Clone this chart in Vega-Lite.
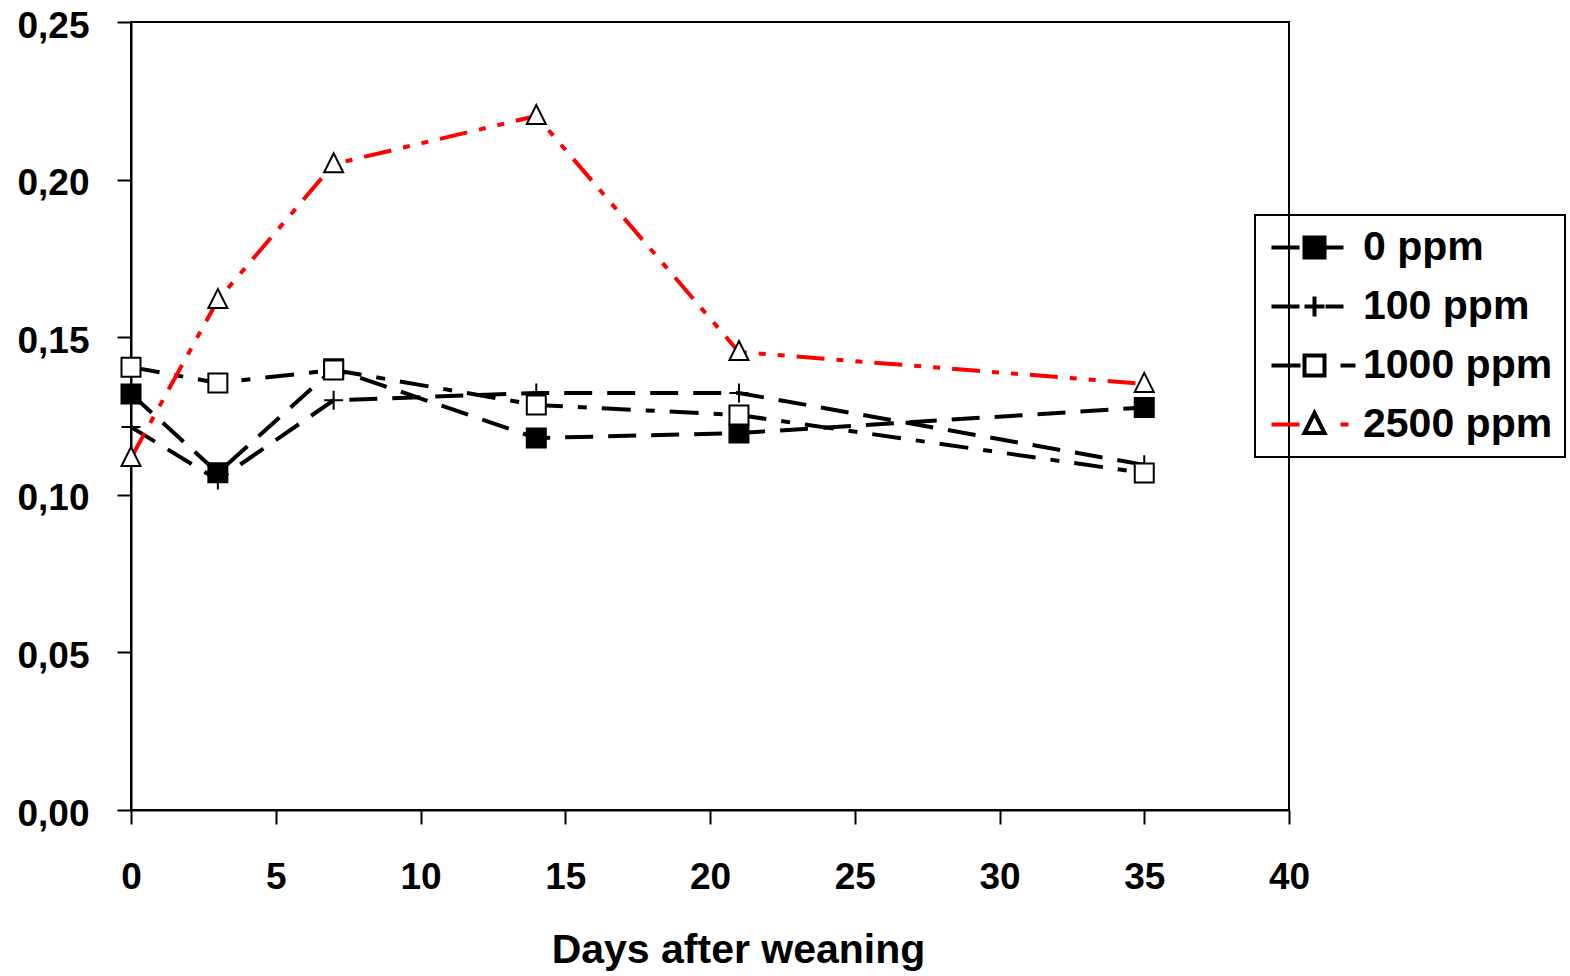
{
  "$schema": "https://vega.github.io/schema/vega-lite/v6.json",
  "width": 1158,
  "height": 788,
  "autosize": {"type": "none"},
  "padding": {"left": 131, "top": 22, "right": 281, "bottom": 166},
  "background": "white",
  "config": {
    "view": {"stroke": "black", "strokeWidth": 2},
    "font": "Liberation Sans"
  },
  "data": {
    "values": [
      {"day": 0, "value": 0.1320, "series": "0 ppm"},
      {"day": 3, "value": 0.1070, "series": "0 ppm"},
      {"day": 7, "value": 0.1400, "series": "0 ppm"},
      {"day": 14, "value": 0.1180, "series": "0 ppm"},
      {"day": 21, "value": 0.1196, "series": "0 ppm"},
      {"day": 35, "value": 0.1277, "series": "0 ppm"},
      {"day": 0, "value": 0.1215, "series": "100 ppm"},
      {"day": 3, "value": 0.1047, "series": "100 ppm"},
      {"day": 7, "value": 0.1300, "series": "100 ppm"},
      {"day": 14, "value": 0.1323, "series": "100 ppm"},
      {"day": 21, "value": 0.1323, "series": "100 ppm"},
      {"day": 35, "value": 0.1095, "series": "100 ppm"},
      {"day": 0, "value": 0.1405, "series": "1000 ppm"},
      {"day": 3, "value": 0.1355, "series": "1000 ppm"},
      {"day": 7, "value": 0.1396, "series": "1000 ppm"},
      {"day": 14, "value": 0.1285, "series": "1000 ppm"},
      {"day": 21, "value": 0.1253, "series": "1000 ppm"},
      {"day": 35, "value": 0.1069, "series": "1000 ppm"},
      {"day": 0, "value": 0.1117, "series": "2500 ppm"},
      {"day": 3, "value": 0.1618, "series": "2500 ppm"},
      {"day": 7, "value": 0.2049, "series": "2500 ppm"},
      {"day": 14, "value": 0.2202, "series": "2500 ppm"},
      {"day": 21, "value": 0.1453, "series": "2500 ppm"},
      {"day": 35, "value": 0.1352, "series": "2500 ppm"}
    ]
  },
  "encoding": {
    "x": {
      "field": "day",
      "type": "quantitative",
      "scale": {"domain": [0, 40], "nice": false, "zero": false},
      "axis": {
        "values": [0, 5, 10, 15, 20, 25, 30, 35, 40],
        "title": "Days after weaning",
        "grid": false,
        "domainColor": "black",
        "domainWidth": 2,
        "tickColor": "black",
        "tickWidth": 2,
        "tickSize": 14,
        "labelFont": "Liberation Sans",
        "labelFontSize": 37,
        "labelFontWeight": "bold",
        "labelColor": "black",
        "labelPadding": 35,
        "labelBaseline": "top",
        "labelFlush": false,
        "labelOverlap": false,
        "titleFont": "Liberation Sans",
        "titleFontSize": 41,
        "titleFontWeight": "bold",
        "titleColor": "black",
        "titleX": 607,
        "titleY": 120,
        "titleBaseline": "top",
        "titleAlign": "center"
      }
    },
    "y": {
      "field": "value",
      "type": "quantitative",
      "scale": {"domain": [0, 0.25], "nice": false},
      "axis": {
        "values": [0, 0.05, 0.1, 0.15, 0.2, 0.25],
        "labelExpr": "replace(format(datum.value, '.2f'), '.', ',')",
        "title": null,
        "grid": false,
        "domainColor": "black",
        "domainWidth": 2,
        "tickColor": "black",
        "tickWidth": 2,
        "tickSize": 14,
        "labelFont": "Liberation Sans",
        "labelFontSize": 37,
        "labelFontWeight": "bold",
        "labelColor": "black",
        "labelPadding": 28,
        "labelOffset": 4,
        "labelFlush": false,
        "labelOverlap": false
      }
    }
  },
  "layer": [
    {
      "mark": {"type": "line", "strokeWidth": 4},
      "encoding": {
        "color": {
          "field": "series",
          "type": "nominal",
          "scale": {"range": ["#000000", "#000000", "#000000", "#ff0000"]},
          "legend": {
            "orient": "none",
            "legendX": 1124,
            "legendY": 193,
            "title": null,
            "padding": 12,
            "direction": "vertical",
            "columns": 1,
            "symbolSize": 400,
            "symbolStrokeWidth": 4,
            "symbolOffset": 27,
            "labelOffset": 28,
            "rowPadding": 17,
            "labelFont": "Liberation Sans",
            "labelFontSize": 41,
            "labelFontWeight": "bold",
            "labelColor": "black",
            "labelLimit": 0,
            "labelBaseline": "middle",
            "labelExpr": "datum.label + '\u00a0\u00a0\u00a0\u00a0'",
            "encode": {
              "legend": {"update": {"stroke": {"value": "black"}, "strokeWidth": {"value": 2}}},
              "symbols": {
                "update": {
                  "shape": {"signal": "datum.value === '0 ppm' ? 'M-4.3,0H-1M1,0H2.9' : datum.value === '100 ppm' ? 'M-4.3,0H-1.4M1.1,0H2.9' : datum.value === '1000 ppm' ? 'M-4.3,0H-1.4M2.6,0H4.1' : 'M-4.3,0H-1.4M2.6,0H3.4'"},
                  "stroke": {"signal": "datum.value === '2500 ppm' ? '#ff0000' : '#000000'"},
                  "fill": {"value": "transparent"},
                  "strokeWidth": {"value": 4},
                  "strokeDash": {"value": []},
                  "opacity": {"value": 1}
                }
              }
            }
          }
        },
        "strokeDash": {
          "field": "series",
          "type": "nominal",
          "scale": {"range": [[28, 15], [28, 15], [29, 15, 9, 15], [28, 12, 7, 12, 7, 12]]},
          "legend": null
        }
      }
    },
    {
      "mark": {"type": "point", "filled": true, "stroke": "black", "strokeWidth": 2, "size": 361, "opacity": 1},
      "encoding": {
        "shape": {
          "field": "series",
          "type": "nominal",
          "scale": {
            "domain": ["0 ppm", "100 ppm", "1000 ppm", "2500 ppm"],
            "range": ["square", "M-1,0H1M0,-1V1", "square", "M0,-1.15L-1,0.85L1,0.85Z"]
          },
          "legend": {
            "orient": "none",
            "legendX": 1124,
            "legendY": 193,
            "title": null,
            "padding": 12,
            "direction": "vertical",
            "columns": 1,
            "symbolSize": 400,
            "symbolStrokeWidth": 4,
            "symbolOffset": 27,
            "labelOffset": 28,
            "rowPadding": 17,
            "labelFont": "Liberation Sans",
            "labelFontSize": 41,
            "labelFontWeight": "bold",
            "labelColor": "black",
            "labelOpacity": 0,
            "labelLimit": 0,
            "labelBaseline": "middle",
            "encode": {
              "symbols": {
                "update": {
                  "fill": {"signal": "datum.value === '0 ppm' ? '#000000' : '#ffffff'"},
                  "stroke": {"value": "#000000"},
                  "strokeWidth": {"value": 2},
                  "size": {"value": 400},
                  "opacity": {"value": 1}
                }
              }
            }
          }
        },
        "fill": {
          "field": "series",
          "type": "nominal",
          "scale": {
            "domain": ["0 ppm", "100 ppm", "1000 ppm", "2500 ppm"],
            "range": ["#000000", "#ffffff", "#ffffff", "#ffffff"]
          },
          "legend": null
        }
      }
    }
  ]
}
